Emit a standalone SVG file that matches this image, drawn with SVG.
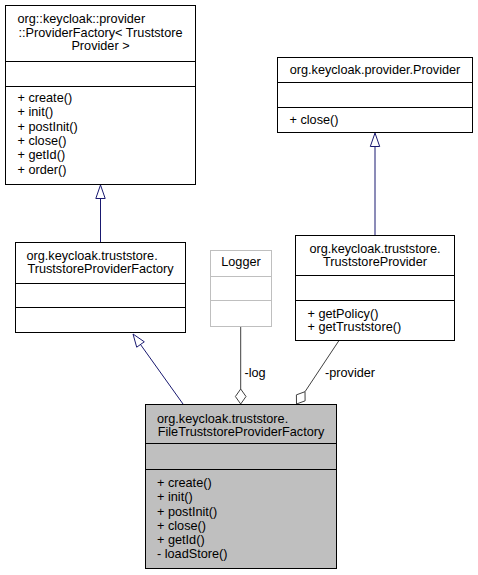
<svg xmlns="http://www.w3.org/2000/svg" width="478" height="575" viewBox="0 0 478 575">
<style>
text{font-family:"Liberation Sans",Arial,sans-serif;font-size:12.7px;fill:#000}
.m{text-anchor:middle}
.box{fill:#fff;stroke:#000;stroke-width:1}
.sep{stroke:#000;stroke-width:1}
.gbox{fill:#fff;stroke:#bfbfbf;stroke-width:1}
.gsep{stroke:#bfbfbf;stroke-width:1}
.main{fill:#bfbfbf;stroke:#000;stroke-width:1}
.inh{stroke:#191970;stroke-width:1;fill:none}
.tri{fill:#fff;stroke:#191970;stroke-width:1}
.use{stroke:#404040;stroke-width:1;fill:none}
.dia{fill:#fff;stroke:#404040;stroke-width:1}
</style>
<rect width="478" height="575" fill="#fff"/>
<g id="connectors">
<line class="inh" x1="100.5" y1="242" x2="100.5" y2="198.5"/>
<polygon class="tri" points="100.5,185 95.8,198.5 105.2,198.5"/>
<line class="inh" x1="375" y1="235" x2="375" y2="146.5"/>
<polygon class="tri" points="375,133 370.3,146.5 379.7,146.5"/>
<line class="inh" x1="183" y1="404" x2="140.5" y2="344.5"/>
<polygon class="tri" points="133,334 136.7,347.2 144.3,341.8"/>
<line class="use" x1="240.7" y1="326.5" x2="240.7" y2="389"/>
<polygon class="dia" points="240.7,389 246,396.5 240.7,404 235.4,396.5"/>
<line class="use" x1="339" y1="340.5" x2="305" y2="391.7"/>
<polygon class="dia" points="305,391.7 305.1,400.85 296.5,404 296.4,394.85"/>
<text x="244.5" y="376.5">-log</text>
<text x="325" y="376.5">-provider</text>
</g>
<g id="ProviderFactory">
<rect class="box" x="5.5" y="5.5" width="190" height="179"/>
<line class="sep" x1="5.5" y1="61.5" x2="195.5" y2="61.5"/>
<line class="sep" x1="5.5" y1="86.5" x2="195.5" y2="86.5"/>
<text x="17.5" y="22.7">org::keycloak::provider</text>
<text class="m" x="100.5" y="36.5">::ProviderFactory&lt; Truststore</text>
<text class="m" x="100.5" y="50">Provider &gt;</text>
<text x="17.5" y="102">+ create()</text>
<text x="17.5" y="116.3">+ init()</text>
<text x="17.5" y="130.6">+ postInit()</text>
<text x="17.5" y="144.9">+ close()</text>
<text x="17.5" y="159.2">+ getId()</text>
<text x="17.5" y="173.5">+ order()</text>
</g>
<g id="Provider">
<rect class="box" x="277.5" y="57.5" width="195" height="75"/>
<line class="sep" x1="277.5" y1="82.5" x2="472.5" y2="82.5"/>
<line class="sep" x1="277.5" y1="107.5" x2="472.5" y2="107.5"/>
<text class="m" x="375" y="73.5">org.keycloak.provider.Provider</text>
<text x="289.5" y="123.5">+ close()</text>
</g>
<g id="TruststoreProviderFactory">
<rect class="box" x="15.5" y="242.5" width="170" height="90"/>
<line class="sep" x1="15.5" y1="283.5" x2="185.5" y2="283.5"/>
<line class="sep" x1="15.5" y1="307.5" x2="185.5" y2="307.5"/>
<text x="26.5" y="260">org.keycloak.truststore.</text>
<text class="m" x="100.5" y="273.3">TruststoreProviderFactory</text>
</g>
<g id="Logger">
<rect class="gbox" x="210.5" y="250.5" width="61" height="76"/>
<line class="gsep" x1="210.5" y1="276.5" x2="271.5" y2="276.5"/>
<line class="gsep" x1="210.5" y1="300.5" x2="271.5" y2="300.5"/>
<text class="m" x="241" y="266">Logger</text>
</g>
<g id="TruststoreProvider">
<rect class="box" x="295.5" y="235.5" width="159" height="105"/>
<line class="sep" x1="295.5" y1="275.5" x2="454.5" y2="275.5"/>
<line class="sep" x1="295.5" y1="300.5" x2="454.5" y2="300.5"/>
<text class="m" x="375" y="252.5">org.keycloak.truststore.</text>
<text class="m" x="375" y="265.5">TruststoreProvider</text>
<text x="307.5" y="317.5">+ getPolicy()</text>
<text x="307.5" y="331">+ getTruststore()</text>
</g>
<g id="FileTruststoreProviderFactory">
<rect class="main" x="145.5" y="404.5" width="191" height="164"/>
<line class="sep" x1="145.5" y1="443.5" x2="336.5" y2="443.5"/>
<line class="sep" x1="145.5" y1="469.5" x2="336.5" y2="469.5"/>
<text x="157" y="423">org.keycloak.truststore.</text>
<text class="m" x="241" y="436">FileTruststoreProviderFactory</text>
<text x="157" y="487.3">+ create()</text>
<text x="157" y="501.4">+ init()</text>
<text x="157" y="515.5">+ postInit()</text>
<text x="157" y="529.6">+ close()</text>
<text x="157" y="543.7">+ getId()</text>
<text x="157" y="557.8">- loadStore()</text>
</g>
</svg>
